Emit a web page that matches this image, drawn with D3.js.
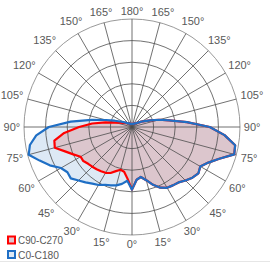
<!DOCTYPE html>
<html><head><meta charset="utf-8">
<script src="https://cdnjs.cloudflare.com/ajax/libs/d3/7.8.5/d3.min.js"></script>
<style>html,body{margin:0;padding:0;background:#fff;}svg{display:block;}</style>
</head><body>
<svg id="chart" width="270" height="262"></svg>
<script>
// Vertical angle gamma (degrees from nadir)
const gamma = [0,5,10,15,20,25,30,35,40,45,50,55,60,65,70,75,80,85,90,95,100,105,110,115,120,125,130,135,140,145,150,155,160,165,170,175,180];
// C0-C180 (blue): C0 half drawn on the right, C180 half on the left
const c0   = [58,49,47,51,57,62,65,66,67,70,73,75,73,78,86,98,97,86,72,51,35,26,18,13,10,7,6,5,4,4,4,3,3,3,3,3,3];
const c180 = [58,50,53.5,56,57.5,59,62,64,67,70,74,73,76,84,91,99,96,89,77,57,38,25,17,12,9,7,5.5,5,4,4,4,3,3,3,3,3,3];
// C90-C270 (red): C90 half on the right, C270 half on the left
const c90  = [58,49,47,51,57,62,65,66,67,70,73,75,73,78,86,98,97,86,72,51,35,26,18,13,10,7,6,5,4,4,4,3,3,3,3,3,3];
const c270 = [58,48,42,41,43.5,47,49,50,51,52,53,55,55,60,66,74,73,63,49,37,25,16,12,9,7,7,5.5,5,4,4,4,3,3,3,3,3,3];
const tickAngles = [0,15,30,45,60,75,90,105,120,135,150,165,180];
const ringValues = [20,40,60,80,100];
const seriesNames = ["C90-C270","C0-C180"];

const svg = d3.select("#chart");
const cx = 132, cy = 127, R = 108;
const g = svg.append("g").attr("transform", `translate(${cx},${cy})`);
const r = d3.scaleLinear().domain([0,100]).range([0,R]);
const rad = d => d*Math.PI/180;

function loop(right, left){
  const pts = [];
  gamma.forEach((a,i)=>pts.push([Math.PI - rad(a), r(right[i])]));
  for(let i=gamma.length-1;i>=0;i--) pts.push([Math.PI + rad(gamma[i]), r(left[i])]);
  return pts;
}
const line = d3.lineRadial().angle(d=>d[0]).radius(d=>d[1]).curve(d3.curveLinearClosed);

const blueFill = "#dde9f5", redFill = "#dcc6cd";
const blue = "#1f6fc5", red = "#ff0000";
const bluePts = loop(c0, c180), redPts = loop(c90, c270);

g.append("path").attr("d", line(bluePts)).attr("fill", blueFill);
g.append("path").attr("d", line(redPts)).attr("fill", redFill);

// grid
const gridColor = "#4d4d4d";
g.selectAll("circle.ring").data(ringValues).join("circle")
  .attr("r", d=>r(d)).attr("fill","none").attr("stroke", d=> d===100?"#7f7f7f":gridColor).attr("stroke-width",0.8);
const spokes = d3.range(0,360,15);
g.selectAll("line.spoke").data(spokes).join("line")
  .attr("x1",0).attr("y1",0)
  .attr("x2", d=>r(100)*Math.sin(rad(d))).attr("y2", d=>r(100)*Math.cos(rad(d)))
  .attr("stroke", gridColor).attr("stroke-width",0.8);

g.append("path").attr("d", line(redPts)).attr("fill","none").attr("stroke",red).attr("stroke-width",2.2).attr("stroke-linejoin","round");
g.append("path").attr("d", line(bluePts)).attr("fill","none").attr("stroke",blue).attr("stroke-width",2.2).attr("stroke-linejoin","round");

// tick labels
const labels = [];
tickAngles.forEach(a=>{ labels.push({a, side:1}); if(a>0 && a<180) labels.push({a, side:-1}); });
g.selectAll("text.tick").data(labels).join("text")
  .attr("font-family","'Liberation Sans', Arial, sans-serif").attr("font-size",11).attr("fill","#595959")
  .attr("text-anchor","middle").attr("dominant-baseline","central")
  .each(function(d){
    const t = d.a + "°";
    const w = t.length*6.1;
    const s = Math.abs(Math.sin(rad(d.a))), c = Math.abs(Math.cos(rad(d.a)));
    const dist = r(100) + 3 + s*w/2 + c*5.5;
    d3.select(this).attr("x", d.side*dist*Math.sin(rad(d.a))).attr("y", dist*Math.cos(rad(d.a))).text(t);
  });

// legend
const leg = svg.append("g");
const legColors = [[red, redFill],[blue, blueFill]];
const legLen = [45, 41];
seriesNames.forEach((n,i)=>{
  const y = 240 + i*14.5;
  leg.append("rect").attr("x",8).attr("y",y-3.5).attr("width",7).attr("height",7)
    .attr("fill",legColors[i][1]).attr("stroke",legColors[i][0]).attr("stroke-width",2);
  leg.append("text").attr("x",18).attr("y",y).attr("dominant-baseline","central")
    .attr("textLength", legLen[i]).attr("lengthAdjust","spacingAndGlyphs")
    .attr("font-family","'Liberation Sans', Arial, sans-serif").attr("font-size",11).attr("fill","#595959").text(n);
});
svg.append("line").attr("x1",0).attr("x2",270).attr("y1",261.5).attr("y2",261.5).attr("stroke","#e6e6e6");
</script>
</body></html>
